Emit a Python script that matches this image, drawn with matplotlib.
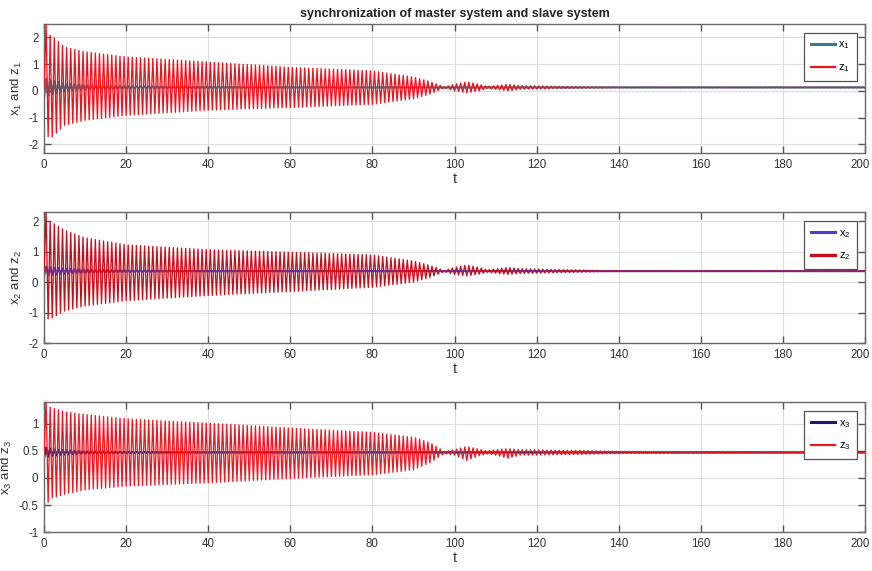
import numpy as np
import matplotlib
matplotlib.use("Agg")
import matplotlib.pyplot as plt
import matplotlib.transforms as mtransforms
from matplotlib.lines import Line2D

plt.rcParams['font.family'] = ['Liberation Sans', 'DejaVu Sans']
plt.rcParams['mathtext.fontset'] = 'custom'
plt.rcParams['mathtext.rm'] = 'Liberation Sans'
plt.rcParams['mathtext.it'] = 'Liberation Sans'

# ---- data ----
# envelope sample times of the slave signals z_i
env_t = [0, 0.5, 1, 2, 5, 10, 20, 40, 60, 80, 90, 94, 97.5, 100, 103, 106, 108, 110,
         113, 116, 120, 125, 130, 135, 140, 200]
z1_upper = [0.1, 2.5, 2.1, 2.05, 1.64, 1.46, 1.27, 1.08, 0.88, 0.75, 0.52, 0.35, 0.15, 0.25,
            0.34, 0.25, 0.17, 0.2, 0.25, 0.2, 0.19, 0.17, 0.16, 0.15, 0.14, 0.14]
z1_lower = [0.1, -2.32, -1.7, -1.72, -1.28, -1.1, -0.91, -0.72, -0.62, -0.5, -0.29, -0.12, 0.11,
            0.0, -0.07, 0.0, 0.09, 0.06, 0.0, 0.06, 0.07, 0.09, 0.1, 0.11, 0.12, 0.12]
z2_upper = [0.36, 2.3, 2.0, 1.95, 1.7, 1.45, 1.22, 1.06, 0.98, 0.89, 0.69, 0.55, 0.38, 0.48,
            0.56, 0.48, 0.40, 0.43, 0.48, 0.44, 0.43, 0.41, 0.40, 0.38, 0.37, 0.37]
z2_lower = [0.36, -1.28, -1.2, -1.17, -0.95, -0.78, -0.61, -0.44, -0.31, -0.17, 0.0, 0.15, 0.34,
            0.25, 0.2, 0.26, 0.32, 0.29, 0.25, 0.28, 0.29, 0.31, 0.32, 0.34, 0.35, 0.35]
z3_upper = [0.47, 1.43, 1.32, 1.29, 1.22, 1.17, 1.09, 1.01, 0.92, 0.84, 0.75, 0.65, 0.49, 0.52,
            0.58, 0.53, 0.5, 0.52, 0.54, 0.52, 0.52, 0.51, 0.51, 0.5, 0.49, 0.48]
z3_lower = [0.47, -0.55, -0.45, -0.37, -0.3, -0.22, -0.15, -0.09, -0.01, 0.06, 0.15, 0.28, 0.45,
            0.42, 0.32, 0.41, 0.44, 0.42, 0.36, 0.42, 0.42, 0.43, 0.43, 0.44, 0.45, 0.46]

# master signals x_i: equilibrium level and small decaying oscillation amplitude
x_t = [0, 2, 5, 10, 20, 40, 60, 200]
x1_level = 0.13
x2_level = 0.36
x3_level = 0.47
x1_amp = [0.35, 0.25, 0.15, 0.08, 0.04, 0.02, 0.0, 0.0]
x2_amp = [0.15, 0.12, 0.08, 0.05, 0.02, 0.01, 0.0, 0.0]
x3_amp = [0.10, 0.06, 0.04, 0.02, 0.01, 0.0, 0.0, 0.0]

half_period = 0.5   # oscillation half period (~1 time unit per cycle)
t_end = 200

title = 'synchronization of master system and slave system'
ylabels = ['x$_1$ and z$_1$', 'x$_2$ and z$_2$', 'x$_3$ and z$_3$']
x_names = ['x$_1$', 'x$_2$', 'x$_3$']
z_names = ['z$_1$', 'z$_2$', 'z$_3$']
ylims = [(-2.32, 2.5), (-2.0, 2.3), (-1.0, 1.4)]
yticks = [[-2, -1, 0, 1, 2], [-2, -1, 0, 1, 2], [-1, -0.5, 0, 0.5, 1]]
ytick_labels = [['-2', '-1', '0', '1', '2'], ['-2', '-1', '0', '1', '2'],
                ['-1', '-0.5', '0', '0.5', '1']]
xticks = [0, 20, 40, 60, 80, 100, 120, 140, 160, 180, 200]

x_colors = ['#3a7b8f', '#4a3fd0', '#1c1c6e']
z_colors = ['#e8161e', '#c4121c', '#ea1a22']


def peaks_from_envelope(tt, upper, lower):
    """Alternate between the upper and lower envelope at each half period."""
    tk = np.arange(0, t_end + half_period, half_period)
    up = np.interp(tk, tt, upper)
    lo = np.interp(tk, tt, lower)
    vals = np.where(np.arange(len(tk)) % 2 == 1, up, lo)
    return tk, vals


fig = plt.figure(figsize=(8.72, 5.71), dpi=100)
axes_pos = [(0.0505, 0.732, 0.9415, 0.226),
            (0.0505, 0.399, 0.9415, 0.230),
            (0.0505, 0.068, 0.9415, 0.228)]

z_data = [(z1_upper, z1_lower), (z2_upper, z2_lower), (z3_upper, z3_lower)]
x_data = [(x1_level, x1_amp), (x2_level, x2_amp), (x3_level, x3_amp)]

for i in range(3):
    ax = fig.add_axes(axes_pos[i])
    lvl, amp = x_data[i]
    up = [lvl + a for a in amp]
    lo = [lvl - a for a in amp]
    tx, vx = peaks_from_envelope(x_t, up, lo)
    ax.plot(tx, vx, color=x_colors[i], lw=1.6, zorder=2)
    tz, vz = peaks_from_envelope(env_t, z_data[i][0], z_data[i][1])
    ax.plot(tz, vz, color=z_colors[i], lw=0.95, zorder=3)

    ax.set_xlim(0, 200)
    ax.set_ylim(*ylims[i])
    ax.set_xticks(xticks)
    ax.set_xticklabels([str(v) for v in xticks])
    ax.set_yticks(yticks[i])
    ax.set_yticklabels(ytick_labels[i])
    ax.grid(True, color='#dedede', lw=0.8)
    ax.set_axisbelow(True)
    ax.tick_params(direction='in', top=True, right=True, length=5, width=1.0,
                   color='#555555', labelsize=8.3, labelcolor='#333333', pad=4)
    # keep the last x tick label inside the figure
    last = ax.get_xticklabels()[-1]
    last.set_transform(last.get_transform() +
                       mtransforms.ScaledTranslation(-5 / 100, 0, fig.dpi_scale_trans))
    for s in ax.spines.values():
        s.set_color('#6a6a6a')
        s.set_linewidth(1.0)
    ax.set_xlabel('t', fontsize=10.5, color='#333333', labelpad=1)
    ax.set_ylabel(ylabels[i], fontsize=9.5, color='#333333', labelpad=3)

    handles = [Line2D([], [], color=x_colors[i], lw=2.2),
               Line2D([], [], color=z_colors[i], lw=1.6 if i != 1 else 2.4)]
    leg = ax.legend(handles, [x_names[i], z_names[i]], loc='upper right',
                    bbox_to_anchor=(0.99, 0.93), borderaxespad=0, fontsize=8,
                    handlelength=2.2, handletextpad=0.3, borderpad=0.6, labelspacing=1.0,
                    fancybox=False, framealpha=1, edgecolor='#555555')
    leg.get_frame().set_linewidth(0.9)
    if i == 0:
        ax.set_title(title, fontsize=9, fontweight='bold', color='#222222', pad=5)

fig.savefig('out.png', dpi=100)
